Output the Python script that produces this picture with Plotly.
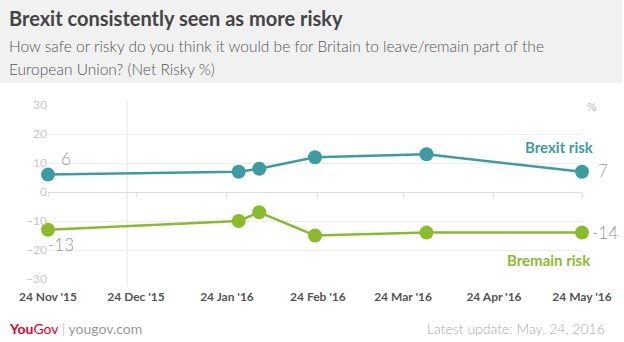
import plotly.graph_objects as go

# ---- data ----
dates = ["2015-11-24", "2016-01-28", "2016-02-04", "2016-02-23", "2016-04-01", "2016-05-24"]
brexit_risk = [6, 7, 8, 12, 13, 7]
bremain_risk = [-13, -10, -7, -15, -14, -14]
tick_dates = ["2015-11-24", "2015-12-24", "2016-01-24", "2016-02-24", "2016-03-24", "2016-04-24", "2016-05-24"]
tick_text = ["24 Nov '15", "24 Dec '15", "24 Jan '16", "24 Feb '16", "24 Mar '16", "24 Apr '16", "24 May '16"]
y_ticks = [-30, -20, -10, 0, 10, 20, 30]

TEAL = "#3d9ca2"
GREEN = "#8abb2c"
FONT = "Lato"

W, H = 624, 342
L, R, T, B = 48, 36, 105, 63
PW, PH = W - L - R, H - T - B


def px(x):
    return (x - L) / PW


def py(y):
    return (H - B - y) / PH


fig = go.Figure()
fig.add_trace(go.Scatter(x=dates, y=brexit_risk, mode="lines+markers", name="Brexit risk",
                         line=dict(color=TEAL, width=2.5), marker=dict(size=14, color=TEAL),
                         cliponaxis=False, showlegend=False))
fig.add_trace(go.Scatter(x=dates, y=bremain_risk, mode="lines+markers", name="Bremain risk",
                         line=dict(color=GREEN, width=2.5), marker=dict(size=14, color=GREEN),
                         cliponaxis=False, showlegend=False))
# dummy trace for the tick axis at zero
fig.add_trace(go.Scatter(x=[tick_dates[0]], y=[0], xaxis="x2", mode="lines", opacity=0,
                         hoverinfo="skip", showlegend=False))

xr = [tick_dates[0], tick_dates[-1]]

annotations = [
    dict(text="<b>Brexit consistently seen as more risky</b>", x=px(7), y=py(18), xref="paper", yref="paper",
         xanchor="left", yanchor="middle", showarrow=False, font=dict(family=FONT, size=20, color="#444")),
    dict(text="How safe or risky do you think it would be for Britain to leave/remain part of the",
         x=px(7), y=py(46), xref="paper", yref="paper", xanchor="left", yanchor="middle", showarrow=False,
         font=dict(family=FONT, size=15.5, color="#555", weight=300)),
    dict(text="European Union? (Net Risky %)",
         x=px(7), y=py(69), xref="paper", yref="paper", xanchor="left", yanchor="middle", showarrow=False,
         font=dict(family=FONT, size=15.5, color="#555", weight=300)),
    dict(text="%", x=px(598), y=py(106), xref="paper", yref="paper", xanchor="center", yanchor="middle",
         showarrow=False, font=dict(family=FONT, size=12, color="#bbb")),
    dict(text="<b>Brexit risk</b>", x=px(602), y=py(147), xref="paper", yref="paper", xanchor="right",
         yanchor="middle", showarrow=False, font=dict(family=FONT, size=15, color=TEAL)),
    dict(text="<b>Bremain risk</b>", x=px(599), y=py(260), xref="paper", yref="paper", xanchor="right",
         yanchor="middle", showarrow=False, font=dict(family=FONT, size=15, color=GREEN)),
    # value labels
    dict(text=str(brexit_risk[0]), x=dates[0], y=brexit_risk[0], xshift=18, yshift=16, showarrow=False,
         font=dict(family=FONT, size=17, color="#999", weight=300)),
    dict(text=str(bremain_risk[0]), x=dates[0], y=bremain_risk[0], xshift=13, yshift=-15, showarrow=False,
         font=dict(family=FONT, size=17, color="#999", weight=300)),
    dict(text=str(brexit_risk[-1]), x=dates[-1], y=brexit_risk[-1], xanchor="left", xshift=14, yshift=1,
         showarrow=False, font=dict(family=FONT, size=17, color="#999", weight=300)),
    dict(text=str(bremain_risk[-1]), x=dates[-1], y=bremain_risk[-1], xanchor="left", xshift=8, yshift=0,
         showarrow=False, font=dict(family=FONT, size=17, color="#999", weight=300)),
    # footer
    dict(text="<b><span style='color:#e4002b'>You</span></b><span style='color:#e4002b'>Gov</span>"
              "<span style='color:#ccc'> | </span><span style='color:#999'>yougov.com</span>",
         x=px(7), y=py(328), xref="paper", yref="paper", xanchor="left", yanchor="middle", showarrow=False,
         font=dict(family=FONT, size=14)),
    dict(text="Latest update: May. 24, 2016", x=px(613), y=py(328), xref="paper", yref="paper",
         xanchor="right", yanchor="middle", showarrow=False,
         font=dict(family=FONT, size=14, color="#aaa", weight=300)),
]

shapes = [
    dict(type="rect", xref="paper", yref="paper", x0=px(-5), x1=px(W + 5), y0=py(83), y1=py(-5),
         fillcolor="#f1f1f1", line=dict(width=0), layer="below"),
    dict(type="line", xref="x", yref="paper", x0="2015-12-21", x1="2015-12-21", y0=py(287), y1=py(102),
         line=dict(color="#e6e6e6", width=1), layer="below"),
]

fig.update_layout(
    width=W, height=H, margin=dict(l=L, r=R, t=T, b=B),
    paper_bgcolor="white", plot_bgcolor="white",
    font=dict(family=FONT),
    xaxis=dict(type="date", range=xr, tickvals=tick_dates, ticktext=tick_text, showgrid=False,
               zeroline=False, showline=False, ticks="", ticklabelstandoff=9,
               tickfont=dict(family=FONT, size=12, color="#555", weight="bold")),
    xaxis2=dict(type="date", range=xr, overlaying="x", anchor="free", position=0.5, tickvals=tick_dates,
                showticklabels=False, ticks="outside", ticklen=4, tickcolor="#ddd", showgrid=False,
                showline=False, zeroline=False),
    yaxis=dict(range=[-30, 30], tickvals=y_ticks, showgrid=True, gridcolor="#eeeeee", zeroline=True,
               zerolinecolor="#dddddd", zerolinewidth=1, ticks="", showline=False,
               tickfont=dict(family=FONT, size=12, color="#c8c8c8")),
    annotations=annotations, shapes=shapes,
)

fig.write_html("out.html")
